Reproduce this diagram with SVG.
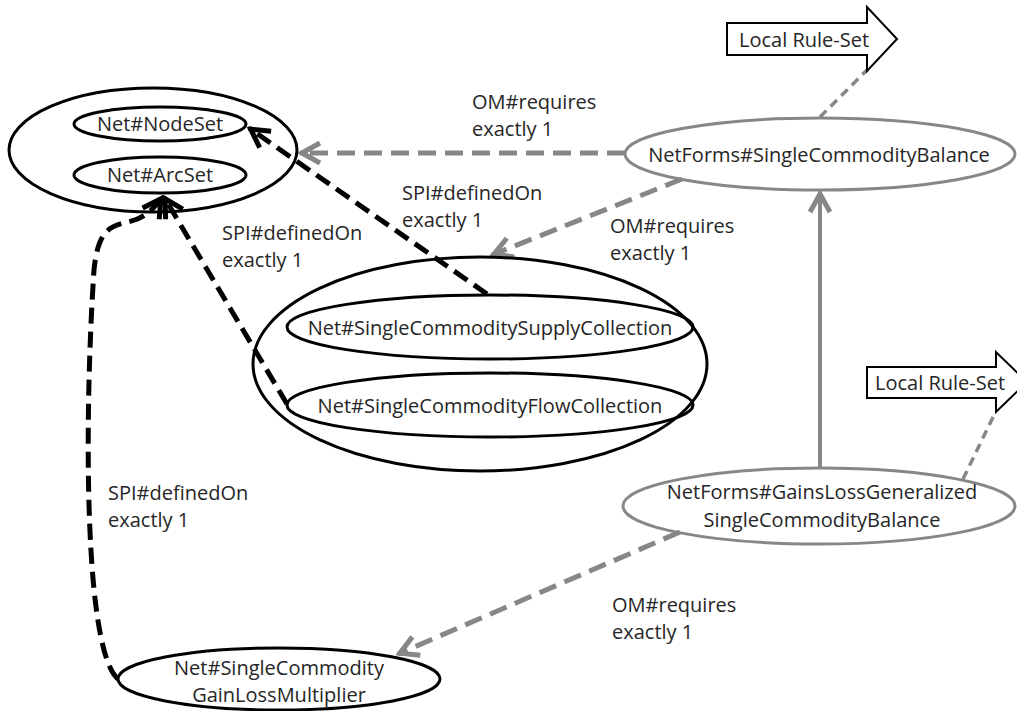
<svg xmlns="http://www.w3.org/2000/svg" width="1017" height="711" viewBox="0 0 1017 711">
  <style>
    text { font-family: "Open Sans", "Liberation Sans", sans-serif; font-size: 20px; fill: #262626; }
    .mid { text-anchor: middle; }
    .blk { fill: none; stroke: #000000; stroke-width: 3; }
    .gry { fill: none; stroke: #878787; stroke-width: 3; }
    .rule { fill: #ffffff; stroke: #000000; stroke-width: 2; }
    .req { fill: none; stroke: #878787; stroke-width: 5; stroke-dasharray: 18 9; }
    .spi { fill: none; stroke: #000000; stroke-width: 5; stroke-dasharray: 16 8; }
    .sub { fill: none; stroke: #878787; stroke-width: 4; }
    .lrs { fill: none; stroke: #878787; stroke-width: 3.5; stroke-dasharray: 9 6; }
  </style>
  <defs>
    <marker id="head-gray" markerUnits="userSpaceOnUse" viewBox="-24 -14 28 28" refX="2" refY="0" markerWidth="28" markerHeight="28" orient="auto">
      <path d="M-18,-10 L0,0 L-18,10" fill="none" stroke="#878787" stroke-width="5"/>
    </marker>
    <marker id="head-black" markerUnits="userSpaceOnUse" viewBox="-24 -14 28 28" refX="2" refY="0" markerWidth="28" markerHeight="28" orient="auto">
      <path d="M-18,-10 L0,0 L-18,10" fill="none" stroke="#000000" stroke-width="5"/>
    </marker>
  </defs>

  <!-- connectors -->
  <g id="connectors">
    <line class="lrs" x1="820" y1="117" x2="867" y2="70"/>
    <line class="lrs" x1="963" y1="479" x2="995" y2="413"/>
    <line class="req" x1="625" y1="153" x2="300" y2="153" marker-end="url(#head-gray)"/>
    <line class="req" x1="682" y1="179" x2="492" y2="255" marker-end="url(#head-gray)"/>
    <line class="req" x1="680" y1="532" x2="398" y2="654" marker-end="url(#head-gray)"/>
    <line class="sub" x1="820" y1="468" x2="820" y2="192" marker-end="url(#head-gray)"/>
    <line class="spi" x1="487" y1="294" x2="249" y2="128" marker-end="url(#head-black)"/>
    <line class="spi" x1="287" y1="404" x2="164" y2="197" marker-end="url(#head-black)"/>
    <path class="spi" d="M118,679 C84,650 84,420 94,270 C98,230 110,226 128,222 C142,219 152,212 162,197" marker-end="url(#head-black)"/>
  </g>

  <!-- edge labels -->
  <g id="labels">
    <text x="472" y="109">OM#requires</text>
    <text x="472" y="136">exactly 1</text>
    <text x="402" y="200">SPI#definedOn</text>
    <text x="402" y="227">exactly 1</text>
    <text x="222" y="240">SPI#definedOn</text>
    <text x="222" y="267">exactly 1</text>
    <text x="610" y="233">OM#requires</text>
    <text x="610" y="260">exactly 1</text>
    <text x="612" y="612">OM#requires</text>
    <text x="612" y="639">exactly 1</text>
    <text x="108" y="500">SPI#definedOn</text>
    <text x="108" y="527">exactly 1</text>
  </g>

  <!-- network container -->
  <g id="net-container">
    <ellipse class="blk" cx="153" cy="150" rx="144" ry="62"/>
  </g>
  <g id="node-set">
    <ellipse class="blk" cx="160" cy="124" rx="86" ry="17"/>
    <text class="mid" x="160" y="131">Net#NodeSet</text>
  </g>
  <g id="arc-set">
    <ellipse class="blk" cx="160" cy="175" rx="86" ry="18"/>
    <text class="mid" x="160" y="182">Net#ArcSet</text>
  </g>

  <!-- collection container -->
  <g id="collection-container">
    <ellipse class="blk" cx="480" cy="364" rx="227" ry="107"/>
  </g>
  <g id="supply-collection">
    <ellipse class="blk" cx="490" cy="327" rx="203" ry="32"/>
    <text class="mid" x="490" y="335">Net#SingleCommoditySupplyCollection</text>
  </g>
  <g id="flow-collection">
    <ellipse class="blk" cx="490" cy="405" rx="203" ry="32"/>
    <text class="mid" x="490" y="413">Net#SingleCommodityFlowCollection</text>
  </g>

  <g id="balance">
    <ellipse class="gry" cx="820" cy="154" rx="195" ry="36"/>
    <text class="mid" x="819" y="162">NetForms#SingleCommodityBalance</text>
  </g>
  <g id="gainloss-balance">
    <ellipse class="gry" cx="819" cy="506" rx="196" ry="38"/>
    <text class="mid" x="822" y="499">NetForms#GainsLossGeneralized</text>
    <text class="mid" x="822" y="527">SingleCommodityBalance</text>
  </g>
  <g id="multiplier">
    <ellipse class="blk" cx="279" cy="679" rx="161" ry="31"/>
    <text class="mid" x="279" y="675">Net#SingleCommodity</text>
    <text class="mid" x="279" y="702">GainLossMultiplier</text>
  </g>

  <g id="rule-set-1">
    <polygon class="rule" points="727,23 867,23 867,7 897,39 867,71 867,55 727,55"/>
    <text x="739" y="47">Local Rule-Set</text>
  </g>
  <g id="rule-set-2">
    <polygon class="rule" points="867,367 996,367 996,352 1027,382 996,412 996,398 867,398"/>
    <text x="875" y="390">Local Rule-Set</text>
  </g>
</svg>
